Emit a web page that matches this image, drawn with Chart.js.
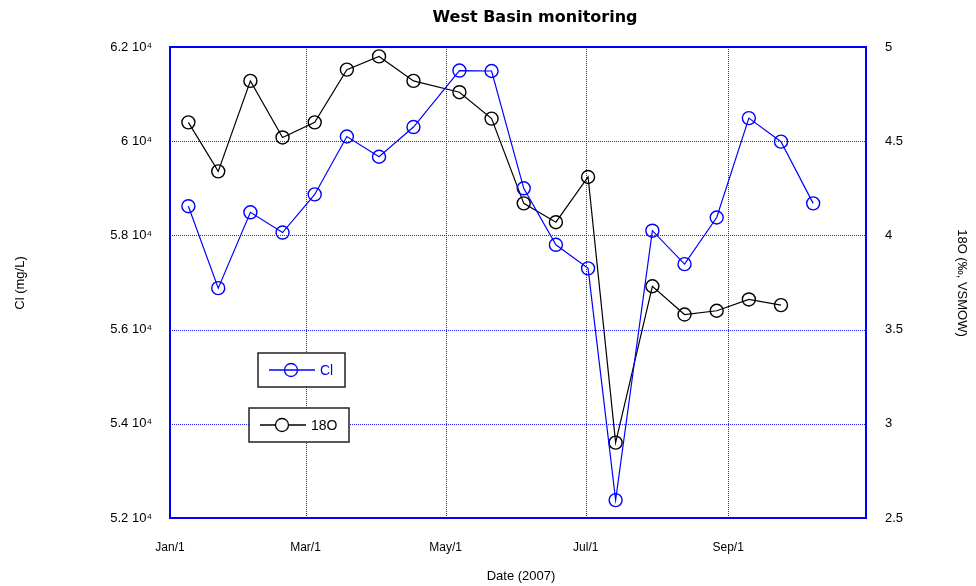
<!DOCTYPE html>
<html>
<head>
<meta charset="utf-8">
<title>West Basin monitoring</title>
<script src="https://cdn.jsdelivr.net/npm/chart.js@4.4.1/dist/chart.umd.min.js"></script>
<style>
  html, body { margin: 0; padding: 0; background: #fff; }
  #wrap { width: 976px; height: 586px; }
</style>
</head>
<body>
<div id="wrap"><canvas id="myChart" width="976" height="586"></canvas></div>
<script>
// sampling days, counted from Jan 1 2007
const sampleDays = [8, 21, 35, 49, 63, 77, 91, 106, 126, 140, 154, 168, 182, 194, 210, 224, 238, 252, 266, 280];
// chloride (mg/L)
const clValues = [58620, 56880, 58490, 58060, 58870, 60100, 59670, 60300, 61500, 61490,
                  59000, 57800, 57300, 52380, 58100, 57390, 58380, 60490, 59990, 58680];
// 18O (permil, VSMOW) - no sample for the last date
const o18Values = [4.60, 4.34, 4.82, 4.52, 4.60, 4.88, 4.95, 4.82, 4.76, 4.62,
                   4.17, 4.07, 4.31, 2.90, 3.73, 3.58, 3.60, 3.66, 3.63];
// month ticks on the date axis
const monthTickDays = [0, 59, 120, 181, 243];
const monthTickLabels = ['Jan/1', 'Mar/1', 'May/1', 'Jul/1', 'Sep/1'];

const BLUE = '#0000ff';
const GRID = '#2020ff';

function toPoints(values) {
    const pts = [];
    for (let i = 0; i < values.length; i++) {
        pts.push({x: sampleDays[i], y: values[i]});
    }
    return pts;
}

// dotted blue grid at the tick positions of the date and Cl axes
const dottedGrid = {
    id: 'dottedGrid',
    beforeDatasetsDraw(chart) {
        const ctx = chart.ctx;
        const a = chart.chartArea;
        ctx.save();
        ctx.strokeStyle = GRID;
        ctx.lineWidth = 1;
        ctx.setLineDash([1, 1]);
        chart.scales.x.ticks.forEach(t => {
            const px = Math.round(chart.scales.x.getPixelForValue(t.value)) + 0.5;
            ctx.beginPath();
            ctx.moveTo(px, a.top);
            ctx.lineTo(px, a.bottom);
            ctx.stroke();
        });
        chart.scales.yCl.ticks.forEach(t => {
            const py = Math.round(chart.scales.yCl.getPixelForValue(t.value)) + 0.5;
            ctx.beginPath();
            ctx.moveTo(a.left, py);
            ctx.lineTo(a.right, py);
            ctx.stroke();
        });
        ctx.restore();
    }
};

// frame, titles and the two boxed legend entries
const decorations = {
    id: 'decorations',
    afterDraw(chart) {
        const ctx = chart.ctx;
        const a = chart.chartArea;
        ctx.save();
        ctx.strokeStyle = BLUE;
        ctx.lineWidth = 2;
        ctx.strokeRect(a.left, a.top, a.right - a.left, a.bottom - a.top);

        ctx.fillStyle = '#000';
        ctx.textAlign = 'center';
        ctx.textBaseline = 'middle';
        ctx.font = 'bold 16px "DejaVu Sans", Verdana, sans-serif';
        ctx.fillText('West Basin monitoring', 535, 18);

        ctx.font = '13px "Liberation Sans", Arial, sans-serif';
        ctx.fillText('Date (2007)', 521, 576);

        ctx.save();
        ctx.translate(20, 283);
        ctx.rotate(-Math.PI / 2);
        ctx.fillText('Cl (mg/L)', 0, 0);
        ctx.restore();

        ctx.save();
        ctx.translate(962, 283);
        ctx.rotate(Math.PI / 2);
        ctx.fillText('18O (‰, VSMOW)', 0, 0);
        ctx.restore();

        drawKey(ctx, 258, 353, 87, 34, chart.data.datasets[0]);
        drawKey(ctx, 249, 408, 100, 34, chart.data.datasets[1]);
        ctx.restore();
    }
};

function drawKey(ctx, x, y, w, h, ds) {
    ctx.fillStyle = '#fff';
    ctx.fillRect(x, y, w, h);
    ctx.strokeStyle = '#222';
    ctx.lineWidth = 1.5;
    ctx.strokeRect(x, y, w, h);
    const cy = y + h / 2;
    ctx.strokeStyle = ds.borderColor;
    ctx.lineWidth = 1.3;
    ctx.beginPath();
    ctx.moveTo(x + 11, cy);
    ctx.lineTo(x + 57, cy);
    ctx.stroke();
    ctx.fillStyle = ds.label === 'Cl' ? 'rgba(0,0,0,0)' : '#fff';
    ctx.beginPath();
    ctx.arc(x + 33, cy, 6.5, 0, Math.PI * 2);
    ctx.fill();
    ctx.stroke();
    ctx.fillStyle = ds.borderColor;
    ctx.textAlign = 'left';
    ctx.font = '14px "Liberation Sans", Arial, sans-serif';
    ctx.fillText(ds.label, x + 62, cy + 1);
}

document.addEventListener('DOMContentLoaded', function() {
    const ctx = document.getElementById('myChart');
    const tickFont = {family: '"Liberation Sans", Arial, sans-serif', size: 13};
    new Chart(ctx, {
        type: 'scatter',
        data: {
            datasets: [{
                label: 'Cl',
                data: toPoints(clValues),
                yAxisID: 'yCl',
                showLine: true,
                borderColor: BLUE,
                borderWidth: 1.2,
                pointRadius: 6.5,
                pointBorderWidth: 1.4,
                pointBackgroundColor: 'rgba(0,0,0,0)',
                pointBorderColor: BLUE,
                clip: false
            }, {
                label: '18O',
                data: toPoints(o18Values),
                yAxisID: 'yO18',
                showLine: true,
                borderColor: '#000',
                borderWidth: 1.2,
                pointRadius: 6.5,
                pointBorderWidth: 1.4,
                pointBackgroundColor: 'rgba(0,0,0,0)',
                pointBorderColor: '#000',
                clip: false
            }]
        },
        options: {
            responsive: false,
            animation: false,
            layout: {padding: {top: 47, left: 20, right: 20, bottom: 20}},
            plugins: {
                legend: {display: false},
                tooltip: {enabled: false}
            },
            scales: {
                x: {
                    type: 'linear',
                    min: 0,
                    max: 303,
                    afterBuildTicks: function(scale) {
                        scale.ticks = monthTickDays.map(v => ({value: v}));
                    },
                    afterFit: function(scale) { scale.height = 48; },
                    ticks: {
                        padding: 14,
                        color: '#000',
                        maxRotation: 0,
                        autoSkip: false,
                        font: {family: '"Liberation Sans Narrow", "Liberation Sans", Arial, sans-serif', size: 12},
                        callback: function(value) {
                            const i = monthTickDays.indexOf(value);
                            return i >= 0 ? monthTickLabels[i] : '';
                        }
                    },
                    grid: {display: false},
                    border: {display: false}
                },
                yCl: {
                    position: 'left',
                    min: 52000,
                    max: 62000,
                    afterFit: function(scale) { scale.width = 150; },
                    ticks: {
                        stepSize: 2000,
                        padding: 10,
                        color: '#000',
                        font: tickFont,
                        callback: function(value) {
                            return (value / 10000) + ' 10\u2074';
                        }
                    },
                    grid: {display: false},
                    border: {display: false}
                },
                yO18: {
                    position: 'right',
                    min: 2.5,
                    max: 5,
                    afterFit: function(scale) { scale.width = 90; },
                    ticks: {
                        stepSize: 0.5,
                        padding: 11,
                        color: '#000',
                        font: tickFont,
                        callback: function(value) { return String(value); }
                    },
                    grid: {display: false},
                    border: {display: false}
                }
            }
        },
        plugins: [dottedGrid, decorations]
    });
});
</script>
</body>
</html>
